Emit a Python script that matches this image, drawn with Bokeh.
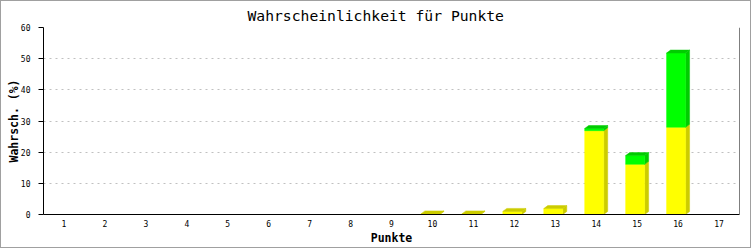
from bokeh.plotting import figure
from bokeh.models import Range1d, FixedTicker, Span
from bokeh.embed import file_html
from bokeh.resources import INLINE

# ---- data ----
punkte = list(range(1, 18))
gelb = [0, 0, 0, 0, 0, 0, 0, 0, 0, 0.2, 0.2, 1.0, 1.9, 26.9, 16.1, 28.0, 0]
gruen = [0, 0, 0, 0, 0, 0, 0, 0, 0, 0, 0, 0, 0, 0.7, 2.8, 23.8, 0]
x_tick_labels = [str(v) for v in punkte]
y_ticks = [0, 10, 20, 30, 40, 50, 60]

title = "Wahrscheinlichkeit für Punkte"
x_label = "Punkte"
y_label = "Wahrsch. (%)"

# ---- layout ----
W, H = 751, 248
L, R, T, B = 42, 13, 25, 35
FW, FH = W - L - R, H - T - B
x0, x1 = 0.5, 17.5
y0, y1 = 0, 60
px_x = (x1 - x0) / FW
px_y = (y1 - y0) / FH

MONO = "DejaVu Sans Mono"

p = figure(width=W, height=H, output_backend="svg", toolbar_location=None,
           x_range=Range1d(x0, x1), y_range=Range1d(y0, y1),
           min_border_left=L, min_border_right=R, min_border_top=T, min_border_bottom=B,
           title=title)
p.styles = {"border": "1px solid #a0a0a0"}
p.outline_line_color = None
p.background_fill_color = "white"
p.border_fill_color = "white"

p.title.text_font = MONO
p.title.text_font_size = "14.7px"
p.title.text_font_style = "normal"
p.title.align = "left"
p.title.offset = 204
p.title.standoff = 7
p.title.text_color = "black"

# axes
p.xaxis.ticker = FixedTicker(ticks=punkte)
p.xaxis.major_label_overrides = {v: s for v, s in zip(punkte, x_tick_labels)}
p.xaxis.major_tick_line_color = None
p.xaxis.minor_tick_line_color = None
p.xaxis.major_label_text_font = MONO
p.xaxis.major_label_text_font_size = "8px"
p.xaxis.major_label_text_color = "black"
p.xaxis.major_label_standoff = -1
p.xaxis.axis_label = x_label
p.xaxis.axis_label_text_font = MONO
p.xaxis.axis_label_text_font_size = "11.5px"
p.xaxis.axis_label_text_font_style = "bold"
p.xaxis.axis_label_text_color = "black"
p.xaxis.axis_label_standoff = 1
p.xaxis.axis_line_color = "black"

p.yaxis.ticker = FixedTicker(ticks=y_ticks)
p.yaxis.major_tick_out = 5
p.yaxis.major_tick_in = 0
p.yaxis.major_tick_line_color = "black"
p.yaxis.minor_tick_line_color = None
p.yaxis.major_label_text_font = MONO
p.yaxis.major_label_text_font_size = "8px"
p.yaxis.major_label_text_color = "black"
p.yaxis.major_label_standoff = 8
p.yaxis.axis_label = y_label
p.yaxis.axis_label_text_font = MONO
p.yaxis.axis_label_text_font_size = "11.5px"
p.yaxis.axis_label_text_font_style = "bold"
p.yaxis.axis_label_text_color = "black"
p.yaxis.axis_label_standoff = -3
p.yaxis.axis_line_color = "black"

p.xgrid.visible = False
p.ygrid.ticker = FixedTicker(ticks=y_ticks[1:])
p.ygrid.grid_line_color = "#c0c0c0"
p.ygrid.grid_line_dash = "2 4"

p.add_layout(Span(location=x1, dimension="height", line_color="black", line_width=1))

# ---- 3D stacked bars ----
front_w = 19 * px_x
dx = 4 * px_x
dy = 3 * px_y
left_off = 11.5 * px_x

colors = {"y": ("#ffff00", "#cccc00"), "g": ("#00ff00", "#00cc00")}
xs, ys, fills = [], [], []
for x, a, b in zip(punkte, gelb, gruen):
    tot = a + b
    if tot <= 0:
        continue
    xl = x - left_off
    xr = xl + front_w
    top_dark = None
    for lo, hi, key in ((0, a, "y"), (a, a + b, "g")):
        if hi - lo <= 0:
            continue
        light, dark = colors[key]
        xs.append([xr, xr + dx, xr + dx, xr]); ys.append([lo, lo + dy, hi + dy, hi]); fills.append(dark)
        xs.append([xl, xr, xr, xl]); ys.append([lo, lo, hi, hi]); fills.append(light)
        top_dark = dark
    xs.append([xl, xr, xr + dx, xl + dx]); ys.append([tot, tot, tot + dy, tot + dy]); fills.append(top_dark)

p.patches(xs=xs, ys=ys, fill_color=fills, line_color=fills, line_width=0.5)

open("out.html", "w").write(file_html(p, INLINE))
